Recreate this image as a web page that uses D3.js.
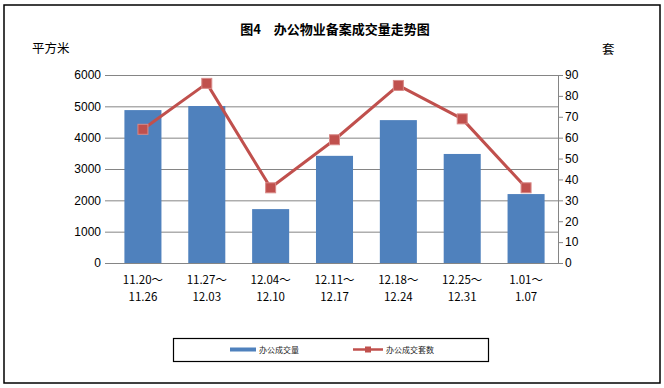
<!DOCTYPE html>
<html><head><meta charset="utf-8">
<script src="https://cdn.jsdelivr.net/npm/d3@7"></script>
<style>body{margin:0;background:#fff}svg{display:block}</style>
</head><body>
<script>
const categories = [["11.20～","11.26"],["11.27～","12.03"],["12.04～","12.10"],["12.11～","12.17"],["12.18～","12.24"],["12.25～","12.31"],["1.01～","1.07"]];
const areaValues = [4880, 5010, 1720, 3420, 4560, 3480, 2200];
const unitValues = [64, 86, 36, 59, 85, 69, 36];
const leftTicks = [0, 1000, 2000, 3000, 4000, 5000, 6000];
const rightTicks = [0, 10, 20, 30, 40, 50, 60, 70, 80, 90];
const seriesNames = ["办公成交量", "办公成交套数"];
const titleText = "图4　办公物业备案成交量走势图";

const W = 664, H = 388;
const m = {left: 111, right: 558, top: 75, bottom: 263};
const svg = d3.select("body").append("svg").attr("width", W).attr("height", H);
const font = "'Noto Sans CJK SC', 'DejaVu Sans', sans-serif";

svg.append("rect").attr("x", 4).attr("y", 5).attr("width", 656).attr("height", 378)
  .attr("fill", "#fff").attr("stroke", "#000").attr("stroke-width", 1.5);

svg.append("text").attr("x", 335).attr("y", 34).attr("text-anchor", "middle")
  .attr("font-family", font).attr("font-weight", "bold").attr("font-size", 13).text(titleText);
svg.append("text").attr("x", 32).attr("y", 53).attr("font-family", font).attr("font-size", 12.5).text("平方米");
svg.append("text").attr("x", 602).attr("y", 54).attr("font-family", font).attr("font-size", 12.5).text("套");

const x = d3.scaleBand().domain(d3.range(categories.length)).range([m.left, m.right]).paddingInner(0.42).paddingOuter(0.21);
const yL = d3.scaleLinear().domain([0, 6000]).range([m.bottom, m.top]);
const yR = d3.scaleLinear().domain([0, 90]).range([m.bottom, m.top]);

// gridlines
svg.append("g").selectAll("line").data(leftTicks).join("line")
  .attr("x1", m.left).attr("x2", m.right).attr("y1", d => yL(d) + 0.5).attr("y2", d => yL(d) + 0.5)
  .attr("stroke", "#858585").attr("stroke-width", 1);

// left axis
const gL = svg.append("g").attr("transform", `translate(${m.left},0)`)
  .call(d3.axisLeft(yL).tickValues(leftTicks).tickSize(6).tickPadding(4).tickFormat(d3.format("d")));
gL.select(".domain").remove();
gL.selectAll(".tick line").attr("stroke", "#858585");
gL.selectAll("text").attr("font-family", "'Liberation Sans', Arial, sans-serif").attr("font-size", 12).attr("fill", "#000");

// right axis
const gR = svg.append("g").attr("transform", `translate(${m.right},0)`)
  .call(d3.axisRight(yR).tickValues(rightTicks).tickSize(5).tickPadding(2));
gR.select(".domain").attr("stroke", "#858585");
gR.selectAll(".tick line").attr("stroke", "#858585");
gR.selectAll("text").attr("font-family", "'Liberation Sans', Arial, sans-serif").attr("font-size", 12).attr("fill", "#000");

// bars
svg.append("g").selectAll("rect").data(areaValues).join("rect")
  .attr("x", (d, i) => x(i)).attr("width", x.bandwidth())
  .attr("y", d => yL(d)).attr("height", d => yL(0) - yL(d))
  .attr("fill", "#4F81BD");

// x labels
const xl = svg.append("g").selectAll("text").data(categories).join("text")
  .attr("x", (d, i) => x(i) + x.bandwidth() / 2).attr("text-anchor", "middle")
  .attr("font-family", font).attr("font-size", 11.5).attr("fill", "#000");
xl.append("tspan").attr("y", 284).text(d => d[0]);
xl.append("tspan").attr("x", (d, i) => x(i) + x.bandwidth() / 2).attr("y", 301).text(d => d[1]);

// line
const line = d3.line().x((d, i) => x(i) + x.bandwidth() / 2).y(d => yR(d));
svg.append("path").datum(unitValues).attr("d", line).attr("fill", "none")
  .attr("stroke", "#C0504D").attr("stroke-width", 3).attr("stroke-linejoin", "round");
svg.append("g").selectAll("rect").data(unitValues).join("rect")
  .attr("x", (d, i) => x(i) + x.bandwidth() / 2 - 5).attr("y", d => yR(d) - 5)
  .attr("width", 10).attr("height", 10).attr("fill", "#C0504D").attr("stroke", "#d88a88").attr("stroke-width", 1);

// legend
svg.append("rect").attr("x", 173.5).attr("y", 338.5).attr("width", 315).attr("height", 23)
  .attr("fill", "#fff").attr("stroke", "#000").attr("stroke-width", 1.2);
svg.append("rect").attr("x", 230).attr("y", 347.5).attr("width", 26).attr("height", 4).attr("fill", "#4F81BD");
svg.append("text").attr("x", 259).attr("y", 353).attr("font-family", font).attr("font-size", 8).attr("fill", "#222").text(seriesNames[0]);
svg.append("line").attr("x1", 353).attr("x2", 383).attr("y1", 349.5).attr("y2", 349.5).attr("stroke", "#C0504D").attr("stroke-width", 2.5);
svg.append("rect").attr("x", 365).attr("y", 346.5).attr("width", 6).attr("height", 6).attr("fill", "#C0504D");
svg.append("text").attr("x", 386).attr("y", 353).attr("font-family", font).attr("font-size", 8).attr("fill", "#222").text(seriesNames[1]);
</script>
</body></html>
